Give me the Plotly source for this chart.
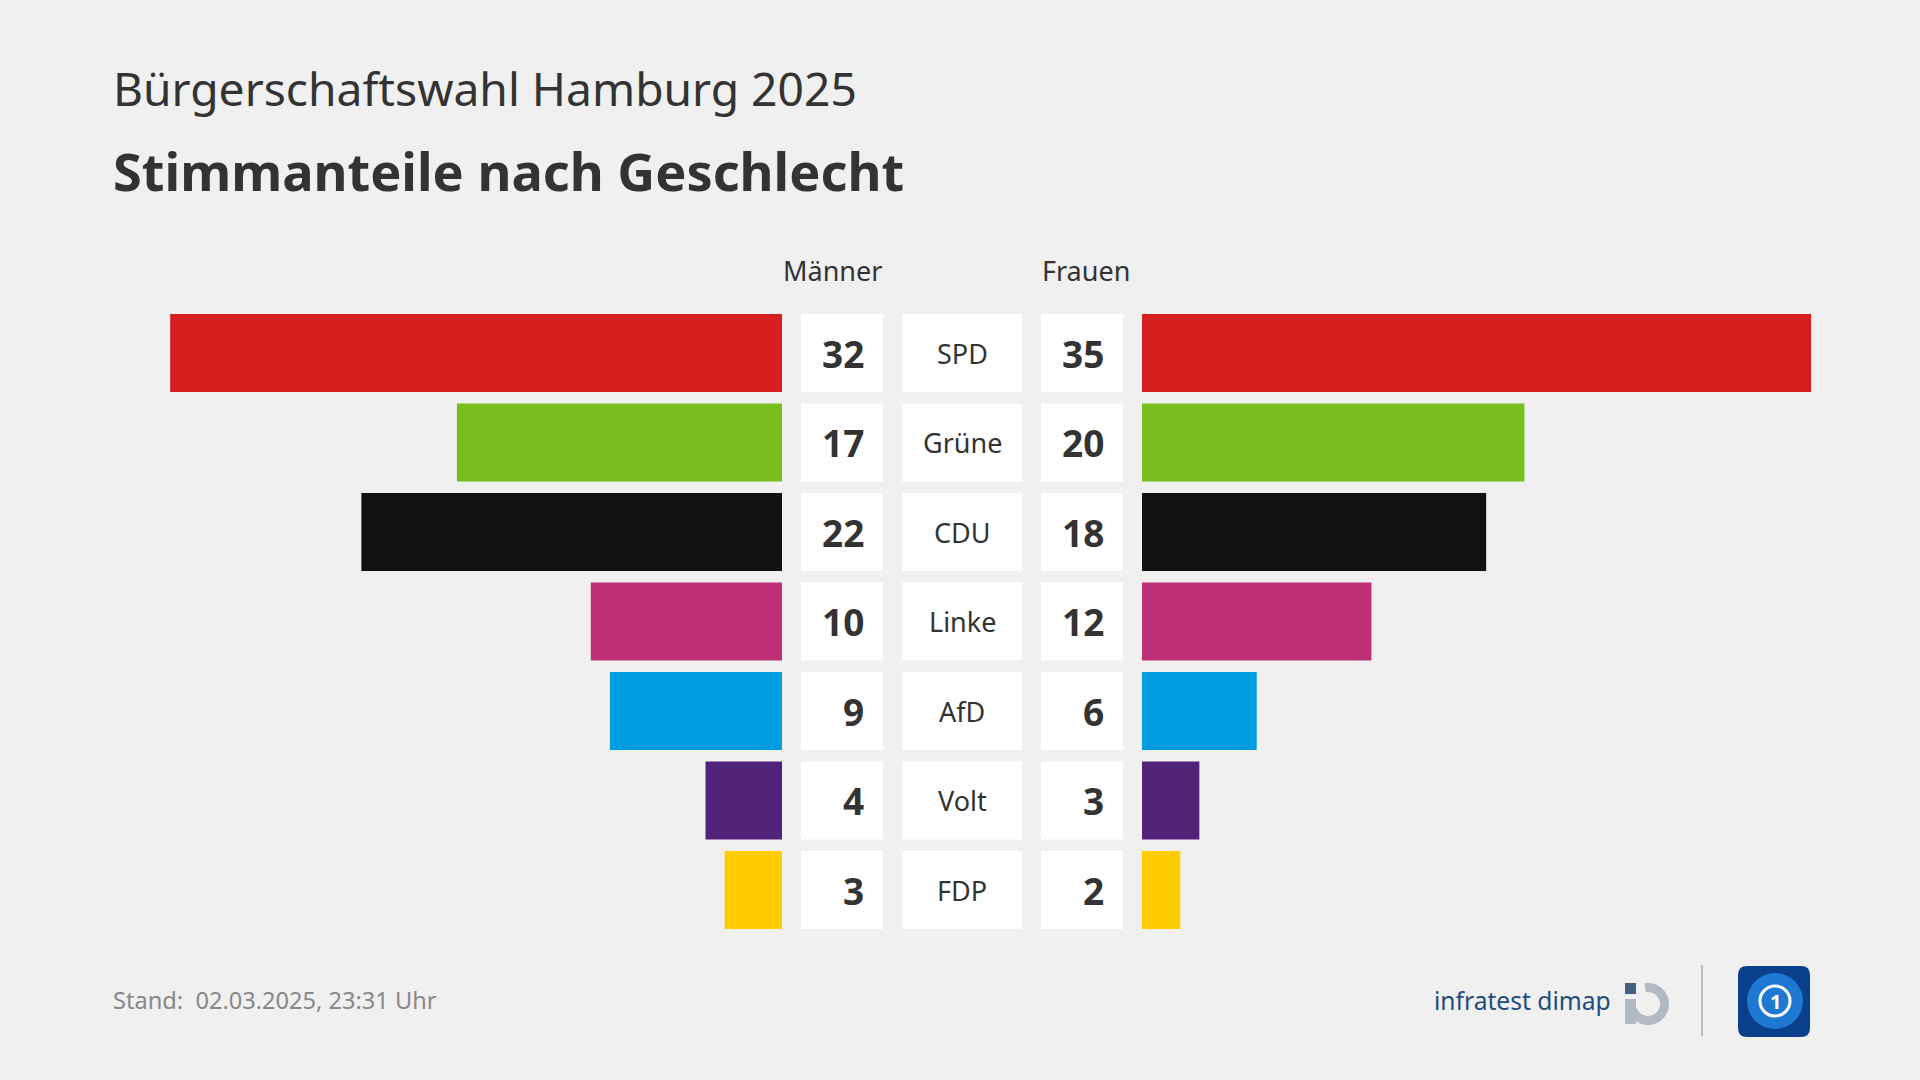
import plotly.graph_objects as go
import math

# ---- data ----
parties = ["SPD", "Grüne", "CDU", "Linke", "AfD", "Volt", "FDP"]
maenner = [32, 17, 22, 10, 9, 4, 3]
frauen = [35, 20, 18, 12, 6, 3, 2]
colors = ["#D71F1F", "#78BE1E", "#111111", "#BE3075", "#009EE0", "#502379", "#FFCC00"]
title1 = "Bürgerschaftswahl Hamburg 2025"
title2 = "Stimmanteile nach Geschlecht"
head_m = "Männer"
head_f = "Frauen"
footer = "Stand:  02.03.2025, 23:31 Uhr"

W, H = 1920, 1080
FONT = "Noto Sans"
TXT = "#333333"
BG = "#F0F0F0"

def px(x):
    return x / W

def py(y):
    return 1 - y / H

max_val = max(max(maenner), max(frauen))
scale = 19.12  # px per percentage point
left_end, right_start = 782, 1142

fig = go.Figure()
fig.add_trace(go.Bar(
    x=maenner, y=parties, orientation="h", marker=dict(color=colors, line=dict(width=0)),
    xaxis="x", yaxis="y", hoverinfo="x+y", showlegend=False))
fig.add_trace(go.Bar(
    x=frauen, y=parties, orientation="h", marker=dict(color=colors, line=dict(width=0)),
    xaxis="x2", yaxis="y", hoverinfo="x+y", showlegend=False))

row_top, row_bot = 308.25, 934.75
hidden = dict(showgrid=False, zeroline=False, showticklabels=False, showline=False, fixedrange=True)

fig.update_layout(
    width=W, height=H, margin=dict(l=0, r=0, t=0, b=0),
    paper_bgcolor=BG, plot_bgcolor="rgba(0,0,0,0)",
    bargap=1 - 78 / 89.5,
    xaxis=dict(domain=[px(left_end - max_val * scale), px(left_end)], range=[max_val, 0], **hidden),
    xaxis2=dict(domain=[px(right_start), px(right_start + max_val * scale)], range=[0, max_val],
                anchor="y", **hidden),
    yaxis=dict(domain=[py(row_bot), py(row_top)], range=[len(parties) - 0.5, -0.5],
               type="category", **hidden),
    font=dict(family=FONT, color=TXT),
)

half = (78 / 89.5) / 2
shapes = []
annotations = []
boxes = [(801, 883), (902, 1022), (1041, 1123)]
for i, p in enumerate(parties):
    for (x0, x1) in boxes:
        shapes.append(dict(type="rect", xref="paper", yref="y", x0=px(x0), x1=px(x1),
                           y0=i - half, y1=i + half, fillcolor="white", line=dict(width=0),
                           layer="below"))
    annotations.append(dict(text=f"<b>{maenner[i]}</b>", xref="paper", yref="y", x=px(865.5), y=p,
                            xanchor="right", yanchor="middle", showarrow=False,
                            font=dict(size=37, family=FONT, color=TXT)))
    annotations.append(dict(text=f"<b>{frauen[i]}</b>", xref="paper", yref="y", x=px(1105.5), y=p,
                            xanchor="right", yanchor="middle", showarrow=False,
                            font=dict(size=37, family=FONT, color=TXT)))
    annotations.append(dict(text=p, xref="paper", yref="y", x=px(962), y=p,
                            xanchor="center", yanchor="middle", showarrow=False,
                            font=dict(size=27, family=FONT, color=TXT)))

annotations += [
    dict(text=head_m, xref="paper", yref="paper", x=px(884), y=py(270), xanchor="right",
         yanchor="middle", showarrow=False, font=dict(size=27, family=FONT, color=TXT)),
    dict(text=head_f, xref="paper", yref="paper", x=px(1040), y=py(270), xanchor="left",
         yanchor="middle", showarrow=False, font=dict(size=27, family=FONT, color=TXT)),
    dict(text=title1, xref="paper", yref="paper", x=px(111), y=py(88), xanchor="left",
         yanchor="middle", showarrow=False, font=dict(size=46.2, family=FONT, color=TXT)),
    dict(text=f"<b>{title2}</b>", xref="paper", yref="paper", x=px(111), y=py(170), xanchor="left",
         yanchor="middle", showarrow=False, font=dict(size=52.3, family=FONT, color=TXT)),
    dict(text=footer, xref="paper", yref="paper", x=px(111), y=py(1000), xanchor="left",
         yanchor="middle", showarrow=False, font=dict(size=23.6, family=FONT, color="#888888")),
    dict(text="infratest dimap", xref="paper", yref="paper", x=px(1613), y=py(1000), xanchor="right",
         yanchor="middle", showarrow=False, font=dict(size=24.6, family=FONT, color="#1E4D7B")),
]

# infratest dimap logo mark
shapes.append(dict(type="rect", xref="paper", yref="paper", x0=px(1625), x1=px(1636),
                   y0=py(994), y1=py(983), fillcolor="#45607F", line=dict(width=0)))
shapes.append(dict(type="rect", xref="paper", yref="paper", x0=px(1625), x1=px(1636),
                   y0=py(1024), y1=py(999), fillcolor="#B3B9C0", line=dict(width=0)))
cx, cy, r = 1648, 1004, 16.5
pts = []
for k in range(0, 41):
    a = math.radians(100 - k * 6.5)
    pts.append((cx + r * math.cos(a), cy - r * math.sin(a)))
path = "M " + " L ".join(f"{px(x):.5f},{py(y):.5f}" for x, y in pts)
shapes.append(dict(type="path", xref="paper", yref="paper", path=path,
                   line=dict(color="#B3B9C0", width=9)))

# separator
shapes.append(dict(type="line", xref="paper", yref="paper", x0=px(1702), x1=px(1702),
                   y0=py(965), y1=py(1036), line=dict(color="#BBBBBB", width=2)))

# tagesschau-like icon
x0, x1, y0, y1, rr = 1738, 1810, 966, 1037, 9
rpath = (f"M {px(x0+rr)},{py(y0)} L {px(x1-rr)},{py(y0)} Q {px(x1)},{py(y0)} {px(x1)},{py(y0+rr)} "
         f"L {px(x1)},{py(y1-rr)} Q {px(x1)},{py(y1)} {px(x1-rr)},{py(y1)} "
         f"L {px(x0+rr)},{py(y1)} Q {px(x0)},{py(y1)} {px(x0)},{py(y1-rr)} "
         f"L {px(x0)},{py(y0+rr)} Q {px(x0)},{py(y0)} {px(x0+rr)},{py(y0)} Z")
shapes.append(dict(type="path", xref="paper", yref="paper", path=rpath,
                   fillcolor="#0A3F8C", line=dict(width=0)))
shapes.append(dict(type="circle", xref="paper", yref="paper", x0=px(1747), x1=px(1803),
                   y0=py(1029), y1=py(973), fillcolor="#1F78D1", line=dict(width=0)))
shapes.append(dict(type="circle", xref="paper", yref="paper", x0=px(1760), x1=px(1790),
                   y0=py(1016), y1=py(986), fillcolor="rgba(0,0,0,0)",
                   line=dict(color="white", width=3)))
annotations.append(dict(text="<b>1</b>", xref="paper", yref="paper", x=px(1775), y=py(1001),
                        xanchor="center", yanchor="middle", showarrow=False,
                        font=dict(size=20, family=FONT, color="white")))

fig.update_layout(shapes=shapes, annotations=annotations)
fig.write_html("out.html", config={"displayModeBar": False},
               post_script="document.body.style.margin='0';document.body.style.background='#F0F0F0';")
